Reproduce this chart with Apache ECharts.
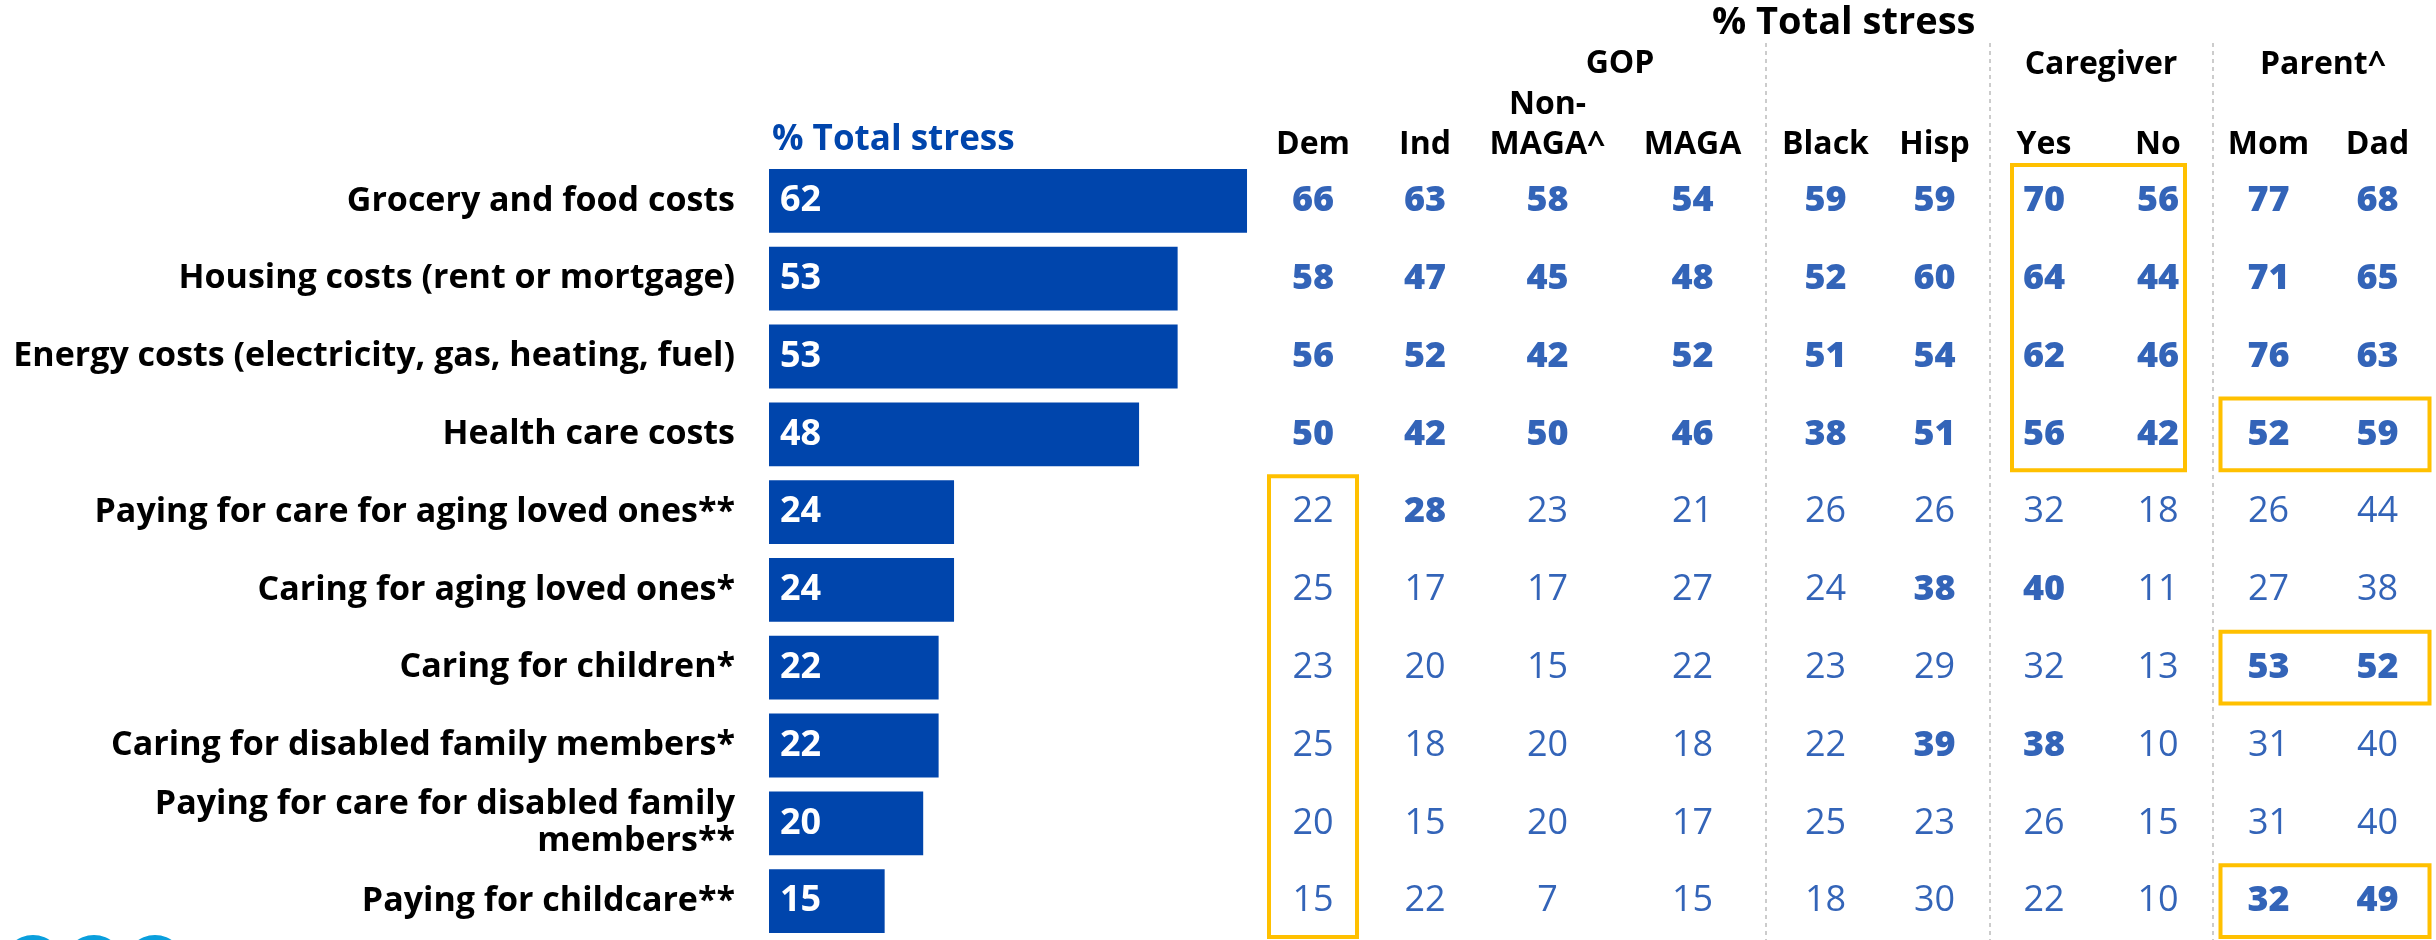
<!DOCTYPE html>
<html>
<head>
<meta charset="utf-8">
<script src="https://cdn.jsdelivr.net/npm/echarts@6/dist/echarts.min.js"></script>
<style>
  html, body { margin: 0; padding: 0; background: #fff; }
  #chart { width: 2436px; height: 940px; }
</style>
</head>
<body>
<div id="chart"></div>
<script>
// ---- data ----
const categories = [
  "Grocery and food costs",
  "Housing costs (rent or mortgage)",
  "Energy costs (electricity, gas, heating, fuel)",
  "Health care costs",
  "Paying for care for aging loved ones**",
  "Caring for aging loved ones*",
  "Caring for children*",
  "Caring for disabled family members*",
  "Paying for care for disabled family\nmembers**",
  "Paying for childcare**"
];
const totalStress = [62, 53, 53, 48, 24, 24, 22, 22, 20, 15];

const dem     = [66, 58, 56, 50, 22, 25, 23, 25, 20, 15];
const ind     = [63, 47, 52, 42, 28, 17, 20, 18, 15, 22];
const nonMaga = [58, 45, 42, 50, 23, 17, 15, 20, 20, 7];
const maga    = [54, 48, 52, 46, 21, 27, 22, 18, 17, 15];
const black   = [59, 52, 51, 38, 26, 24, 23, 22, 25, 18];
const hisp    = [59, 60, 54, 51, 26, 38, 29, 39, 23, 30];
const cgYes   = [70, 64, 62, 56, 32, 40, 32, 38, 26, 22];
const cgNo    = [56, 44, 46, 42, 18, 11, 13, 10, 15, 10];
const mom     = [77, 71, 76, 52, 26, 27, 53, 31, 31, 32];
const dad     = [68, 65, 63, 59, 44, 38, 52, 40, 40, 49];

// rows shown in bold (first four rows are bold for every column)
const boldTopRows = 4;
const boldExtra = { ind: [4], hisp: [5, 7], cgYes: [5, 7], mom: [6, 9], dad: [6, 9] };

// ---- layout ----
const BLUE = '#0045AC';
const NUM_BLUE = '#003DA6';
const YELLOW = '#FFC000';
const FONT = 'Open Sans';
const ROW_TOP = 162, ROW_H = 780;

const groups = [
  { headers: ['Dem', 'Ind'], cols: [dem, ind], keys: ['dem', 'ind'], left: 1257, width: 224, name: '' },
  { headers: ['Non-\nMAGA^', 'MAGA'], cols: [nonMaga, maga], keys: ['nonMaga', 'maga'], left: 1475, width: 290, name: 'GOP' },
  { headers: ['Black', 'Hisp'], cols: [black, hisp], keys: ['black', 'hisp'], left: 1771, width: 218, name: '' },
  { headers: ['Yes', 'No'], cols: [cgYes, cgNo], keys: ['cgYes', 'cgNo'], left: 1987, width: 228, name: 'Caregiver' },
  { headers: ['Mom', 'Dad'], cols: [mom, dad], keys: ['mom', 'dad'], left: 2214, width: 218, name: 'Parent^' }
];

// highlighted cells: group, columns, rows, horizontal padding
const boxes = [
  { group: 0, cols: [0, 0], rows: [4, 9], pad: [44, 44] },
  { group: 3, cols: [0, 1], rows: [0, 3], pad: [32, 27] },
  { group: 4, cols: [0, 1], rows: [3, 3], pad: [48, 52] },
  { group: 4, cols: [0, 1], rows: [6, 6], pad: [48, 52] },
  { group: 4, cols: [0, 1], rows: [9, 9], pad: [48, 52] }
];

const separators = [1766, 1990, 2213];

const chart = echarts.init(document.getElementById('chart'));

const grids = [{ left: 769, top: ROW_TOP, width: 771, height: ROW_H }];
const xAxes = [{ gridIndex: 0, type: 'value', min: 0, max: 100, show: false }];
const yAxes = [{
  gridIndex: 0, type: 'category', data: categories, inverse: true,
  axisLine: { show: false }, axisTick: { show: false },
  axisLabel: {
    margin: 34, fontSize: 34, fontWeight: 'bold', color: '#000',
    fontFamily: FONT, lineHeight: 37
  }
}];
const series = [{
  type: 'bar', xAxisIndex: 0, yAxisIndex: 0, data: totalStress,
  barCategoryGap: '18%', itemStyle: { color: BLUE },
  label: {
    show: true, position: 'insideLeft', distance: 11, color: '#fff',
    fontSize: 36, fontWeight: 'bold', fontFamily: FONT
  },
  silent: true
}];

groups.forEach((g, gi) => {
  const idx = gi + 1;
  grids.push({ left: g.left, top: ROW_TOP, width: g.width, height: ROW_H });
  xAxes.push({
    gridIndex: idx, type: 'category', data: g.headers, position: 'top',
    axisLine: { show: false }, axisTick: { show: false },
    axisLabel: {
      interval: 0, margin: -3, fontSize: 32, fontWeight: 'bold', color: '#000',
      fontFamily: FONT, lineHeight: 40
    },
    name: g.name, nameLocation: 'middle', nameGap: 97,
    nameTextStyle: {
      fontSize: 32, fontWeight: 'bold', color: '#000', fontFamily: FONT,
      verticalAlign: 'middle'
    }
  });
  yAxes.push({ gridIndex: idx, type: 'category', data: categories, inverse: true, show: false });

  const data = [];
  g.cols.forEach((col, ci) => {
    const extra = boldExtra[g.keys[ci]] || [];
    col.forEach((v, ri) => {
      const bold = ri < boldTopRows || extra.indexOf(ri) >= 0;
      data.push({ value: [ci, ri, v], label: { fontWeight: bold ? 800 : 'normal' } });
    });
  });
  series.push({
    type: 'scatter', xAxisIndex: idx, yAxisIndex: idx, data: data,
    symbolSize: 1, itemStyle: { color: 'transparent' }, silent: true,
    label: {
      show: true, position: 'inside', color: NUM_BLUE, fontSize: 36,
      fontFamily: FONT, formatter: p => p.value[2]
    }
  });

  const myBoxes = boxes.filter(b => b.group === gi);
  if (myBoxes.length) {
    series.push({
      type: 'custom', xAxisIndex: idx, yAxisIndex: idx, clip: false, silent: true,
      data: myBoxes.map(b => [b.cols[0], b.cols[1], b.rows[0], b.rows[1], b.pad[0], b.pad[1]]),
      renderItem: (params, api) => {
        const p0 = api.coord([api.value(0), api.value(2)]);
        const p1 = api.coord([api.value(1), api.value(3)]);
        const band = api.size([0, 1])[1];
        const inset = 3;
        const x = p0[0] - api.value(4);
        const y = p0[1] - band / 2 + inset;
        return {
          type: 'rect',
          shape: { x: x, y: y, width: p1[0] + api.value(5) - x, height: p1[1] + band / 2 - inset - y },
          style: { fill: 'none', stroke: YELLOW, lineWidth: 4 }
        };
      }
    });
  }
});

const graphics = separators.map(x => ({
  type: 'line', silent: true, z: 0,
  shape: { x1: x, y1: 43, x2: x, y2: 940 },
  style: { stroke: '#cccccc', lineWidth: 2, lineDash: [4, 4] }
}));
// partly visible logo dots at the bottom left
[33, 94, 155].forEach(cx => graphics.push({
  type: 'circle', silent: true, shape: { cx: cx, cy: 965, r: 30 }, style: { fill: '#0A9FDD' }
}));

chart.setOption({
  backgroundColor: '#fff',
  animation: false,
  title: [
    {
      text: '% Total stress', left: 1712, top: 4, padding: 0,
      textStyle: { fontSize: 38, fontWeight: 'bold', color: '#000', fontFamily: FONT }
    },
    {
      text: '% Total stress', left: 772, top: 123, padding: 0,
      textStyle: { fontSize: 35, fontWeight: 'bold', color: BLUE, fontFamily: FONT }
    }
  ],
  grid: grids,
  xAxis: xAxes,
  yAxis: yAxes,
  series: series,
  graphic: graphics
});
</script>
</body>
</html>
